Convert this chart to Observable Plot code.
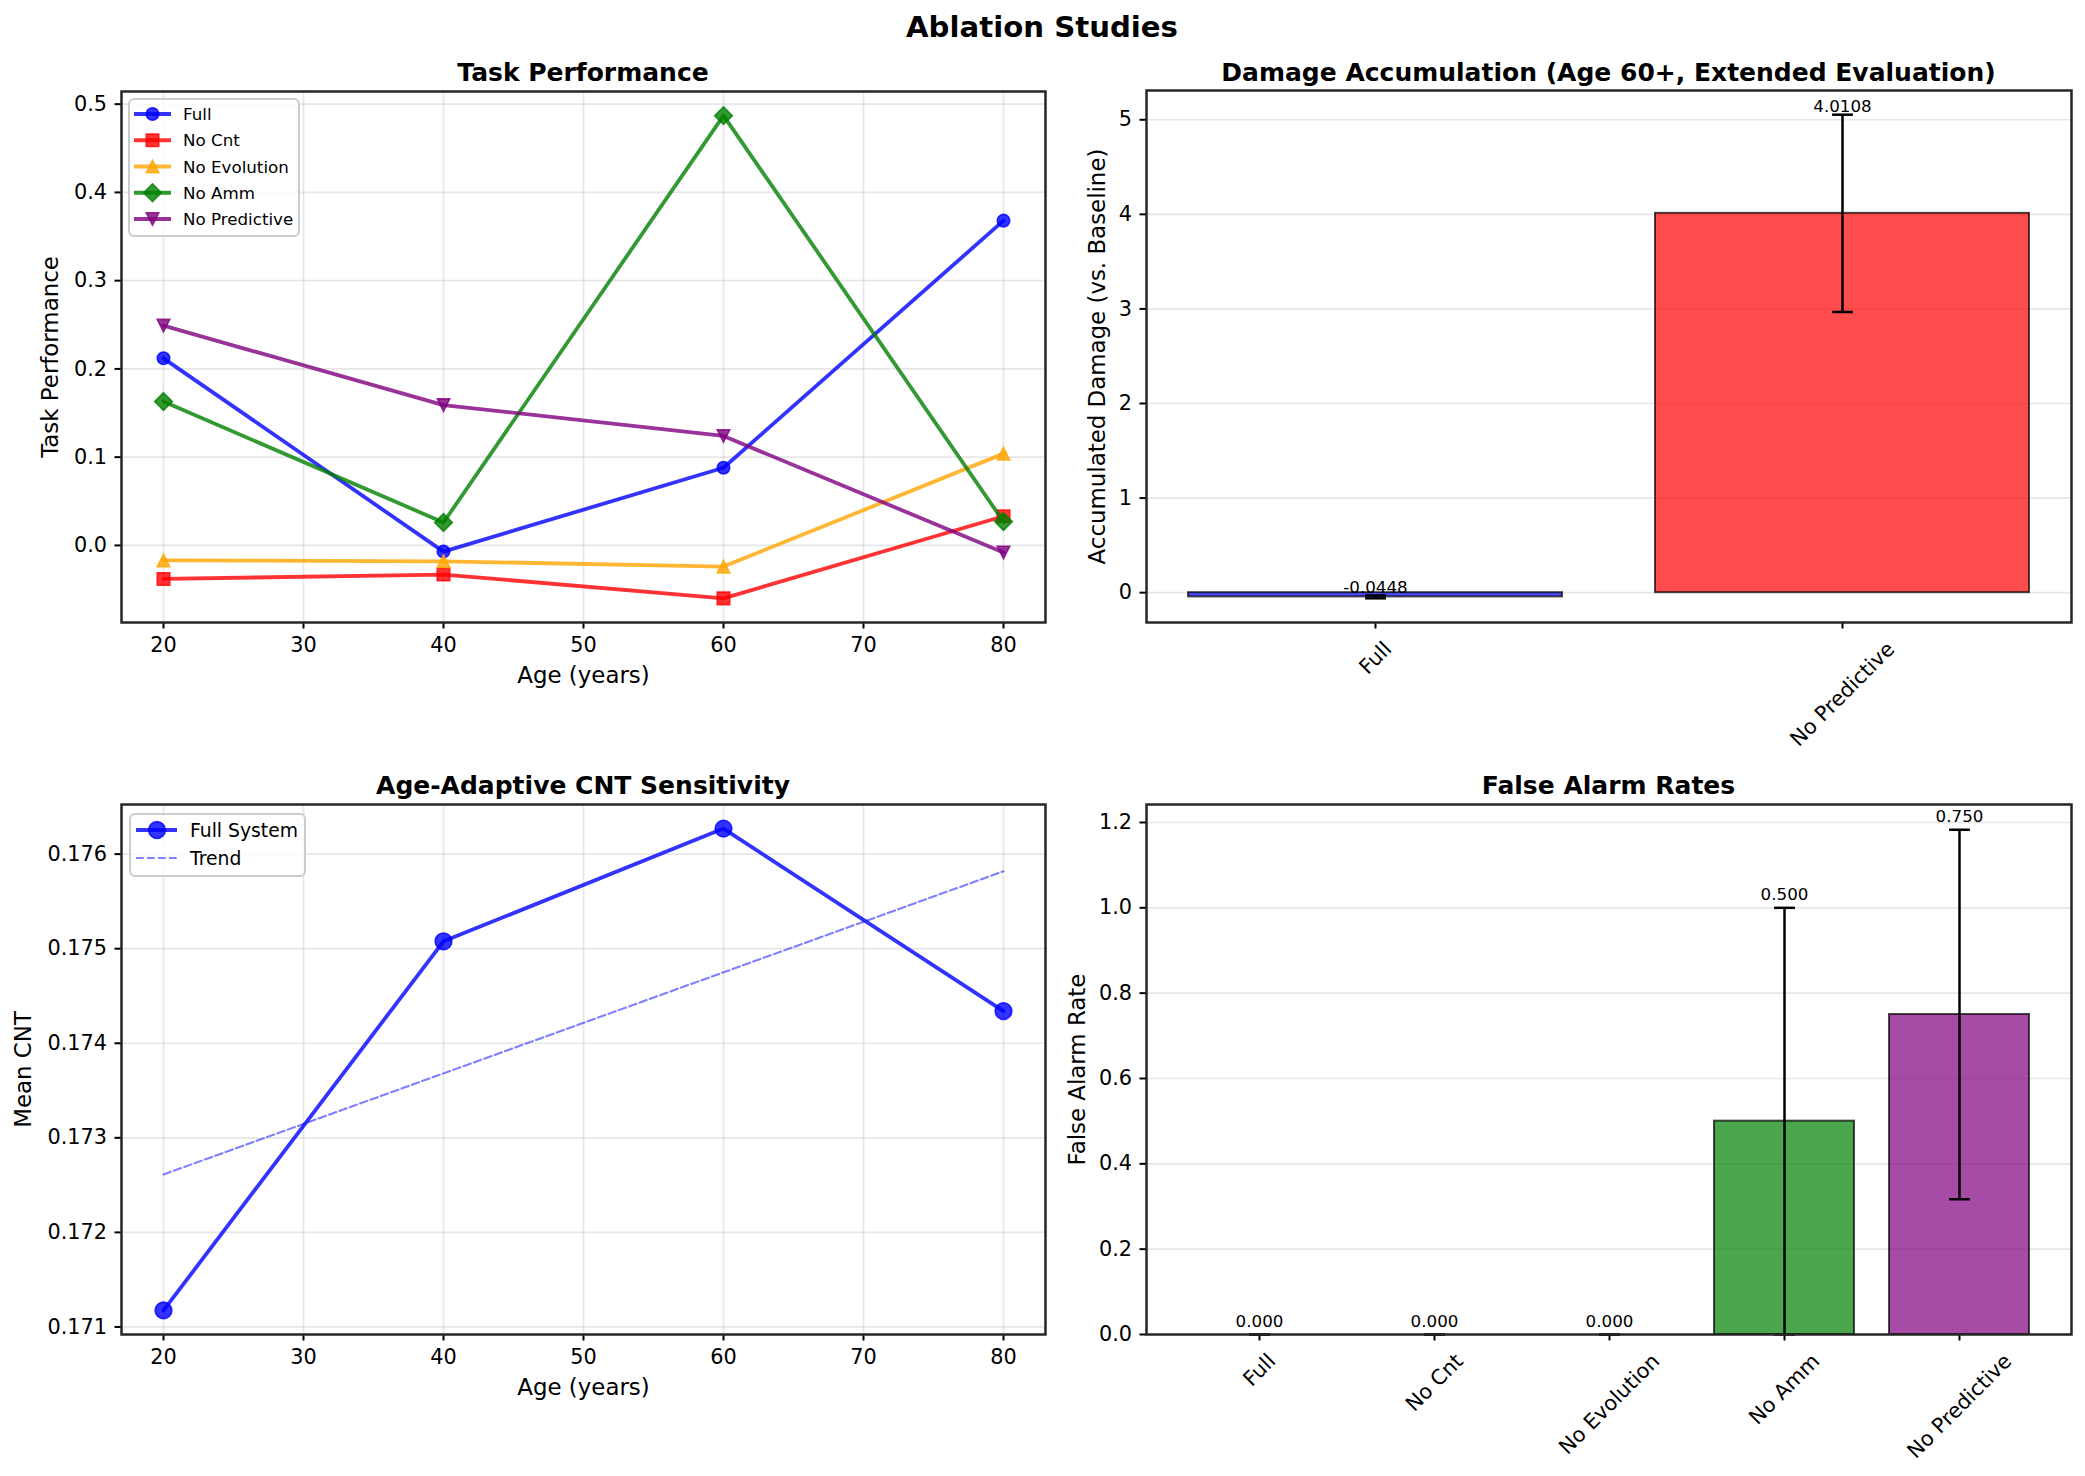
<!DOCTYPE html>
<html>
<head>
<meta charset="utf-8">
<script src="https://cdn.jsdelivr.net/npm/d3@7"></script>
<script src="https://cdn.jsdelivr.net/npm/@observablehq/plot@0.6"></script>
<style>
  body { margin: 0; background: #fff; }
  #fig { position: relative; width: 2085px; height: 1476px; font-family: "DejaVu Sans"; color: #000; overflow: hidden; background: #fff; }
  .panel { position: absolute; }
  .ttl { position: absolute; transform: translate(-50%, -50%); font-weight: bold; white-space: nowrap; font-family: "DejaVu Sans"; }
  #overlay { position: absolute; left: 0; top: 0; pointer-events: none; }
</style>
</head>
<body>
<div id="fig"></div>
<script>
// ---------------- DATA ----------------
const ages = [20, 40, 60, 80];
const seriesNames = ["Full", "No Cnt", "No Evolution", "No Amm", "No Predictive"];
const seriesColors = ["blue", "red", "orange", "green", "purple"];
const perfFull = [0.212, -0.007, 0.088, 0.368];
const perfNoCnt = [-0.038, -0.033, -0.060, 0.033];
const perfNoEvolution = [-0.017, -0.018, -0.024, 0.104];
const perfNoAmm = [0.163, 0.026, 0.487, 0.027];
const perfNoPredictive = [0.249, 0.159, 0.124, -0.008];
const ageTicks = [20, 30, 40, 50, 60, 70, 80];
const perfTicks = [0.0, 0.1, 0.2, 0.3, 0.4, 0.5];

const damageCats = ["Full", "No Predictive"];
const damageVals = [-0.0448, 4.0108];
const damageErr = [0.015, 1.043];
const damageColors = ["blue", "red"];
const damageTicks = [0, 1, 2, 3, 4, 5];

const cntAges = [20, 40, 60, 80];
const cntVals = [0.171175, 0.175078, 0.17627, 0.17434];
const cntTicks = [0.171, 0.172, 0.173, 0.174, 0.175, 0.176];

const farCats = ["Full", "No Cnt", "No Evolution", "No Amm", "No Predictive"];
const farVals = [0.0, 0.0, 0.0, 0.5, 0.75];
const farErr = [0.0, 0.0, 0.0, 0.5, 0.433];
const farColors = ["blue", "red", "orange", "green", "purple"];
const farTicks = [0.0, 0.2, 0.4, 0.6, 0.8, 1.0, 1.2];

// ---------------- HELPERS ----------------
const FONT = "DejaVu Sans";
const TICK_FS = 20.8, LABEL_FS = 22.9, SMALL_FS = 16.7;
const LABEL_LIFT = 0.015; // text offset above error bar, data units
const fig = document.getElementById("fig");
const padDomain = (lo, hi) => [lo - 0.05 * (hi - lo), hi + 0.05 * (hi - lo)];
const baseStyle = () => ({fontFamily: FONT, fontSize: TICK_FS + "px", color: "#000", background: "transparent", overflow: "visible"});
const gridOpts = {stroke: "#b0b0b0", strokeOpacity: 0.3, strokeWidth: 1.7};
const axisOpts = {tickSize: 6.5, tickPadding: 8, strokeWidth: 2, label: null};
const frameMark = () => Plot.frame({stroke: "#262626", strokeWidth: 2.5});

const mk = (fn) => ({draw(ctx, size) { const r = Math.sqrt(size / Math.PI); fn(ctx, r); }});
const SYM = {
  circle: mk((c, r) => { c.moveTo(r, 0); c.arc(0, 0, r, 0, 2 * Math.PI); c.closePath(); }),
  square: mk((c, r) => { c.moveTo(-r, -r); c.lineTo(r, -r); c.lineTo(r, r); c.lineTo(-r, r); c.closePath(); }),
  triUp: mk((c, r) => { c.moveTo(0, -r); c.lineTo(r, r); c.lineTo(-r, r); c.closePath(); }),
  triDown: mk((c, r) => { c.moveTo(0, r); c.lineTo(r, -r); c.lineTo(-r, -r); c.closePath(); }),
  diamond: mk((c, r) => { const a = r * Math.SQRT2; c.moveTo(0, -a); c.lineTo(a, 0); c.lineTo(0, a); c.lineTo(-a, 0); c.closePath(); }),
  cap: mk((c, r) => { c.moveTo(-r, 0); c.lineTo(r, 0); })
};
const perfSymbols = [SYM.circle, SYM.square, SYM.triUp, SYM.diamond, SYM.triDown];

function place(svg, left, top) {
  const d = document.createElement("div");
  d.className = "panel";
  d.style.left = left + "px";
  d.style.top = top + "px";
  d.appendChild(svg);
  fig.appendChild(d);
}
function title(text, cx, cy, fs) {
  const d = document.createElement("div");
  d.className = "ttl";
  d.style.left = cx + "px";
  d.style.top = cy + "px";
  d.style.fontSize = fs + "px";
  d.textContent = text;
  fig.appendChild(d);
}
const xLabel = (t, dy) => Plot.text([t], {text: d => d, frameAnchor: "bottom", dy, fontSize: LABEL_FS, lineAnchor: "middle"});
const yLabel = (t, dx) => Plot.text([t], {text: d => d, frameAnchor: "left", dx, rotate: -90, fontSize: LABEL_FS, lineAnchor: "middle", textAnchor: "middle"});

const measureCtx = document.createElement("canvas").getContext("2d");
measureCtx.font = `${TICK_FS}px "${FONT}"`;
function rotLabels(cats) {
  return cats.map(c => {
    const w = measureCtx.measureText(c).width;
    const h = TICK_FS * 1.164;
    return Plot.text([c], {x: d => d, text: d => d, frameAnchor: "bottom", rotate: -45,
      textAnchor: "middle", lineAnchor: "middle", fontSize: TICK_FS, dy: 14.6 + (w + h) * Math.SQRT1_2 / 2});
  });
}

// ---------------- TOP LEFT: Task Performance ----------------
const perfSeries = [perfFull, perfNoCnt, perfNoEvolution, perfNoAmm, perfNoPredictive];
const perfData = [];
seriesNames.forEach((s, i) => ages.forEach((a, j) => perfData.push({series: s, age: a, v: perfSeries[i][j]})));
const perfExt = d3.extent(perfData, d => d.v);

const tl = Plot.plot({
  width: 1065, height: 640, marginLeft: 121, marginRight: 20, marginTop: 31, marginBottom: 78,
  style: baseStyle(),
  x: {type: "linear", domain: padDomain(...d3.extent(ages))},
  y: {type: "linear", domain: padDomain(...perfExt)},
  marks: [
    Plot.gridX(ageTicks, gridOpts),
    Plot.gridY(perfTicks, gridOpts),
    ...seriesNames.flatMap((s, i) => {
      const d = perfData.filter(r => r.series === s);
      return [
        Plot.line(d, {x: "age", y: "v", stroke: seriesColors[i], strokeWidth: 3.8, strokeOpacity: 0.8}),
        Plot.dot(d, {x: "age", y: "v", symbol: perfSymbols[i], r: 6.25, fill: seriesColors[i], fillOpacity: 0.8,
          stroke: seriesColors[i], strokeOpacity: 0.8, strokeWidth: 1.6})
      ];
    }),
    Plot.axisX({...axisOpts, anchor: "bottom", ticks: ageTicks, tickFormat: d => String(d)}),
    Plot.axisY({...axisOpts, anchor: "left", ticks: perfTicks, tickFormat: d3.format(".1f")}),
    frameMark(),
    xLabel("Age (years)", 53),
    yLabel("Task Performance", -71)
  ]
});
place(tl, 0, 60);

// ---------------- TOP RIGHT: Damage Accumulation ----------------
const damageData = damageCats.map((c, i) => ({cat: c, v: damageVals[i], e: damageErr[i], color: damageColors[i]}));
const dLo = Math.min(0, d3.min(damageData, d => d.v - d.e));
const dHi = Math.max(0, d3.max(damageData, d => d.v + d.e));
const tr = Plot.plot({
  width: 1020, height: 712, marginLeft: 81, marginRight: 14, marginTop: 30, marginBottom: 150,
  style: baseStyle(),
  color: {type: "identity"},
  x: {type: "band", domain: damageCats, paddingInner: 0.2, paddingOuter: 0.05 * (damageCats.length - 0.2)},
  y: {type: "linear", domain: padDomain(dLo, dHi)},
  marks: [
    Plot.gridY(damageTicks, gridOpts),
    Plot.barY(damageData, {x: "cat", y: "v", fill: "color", fillOpacity: 0.7, stroke: "black", strokeOpacity: 0.7, strokeWidth: 2}),
    Plot.ruleX(damageData, {x: "cat", y1: d => d.v - d.e, y2: d => d.v + d.e, stroke: "black", strokeWidth: 2.5}),
    Plot.dot(damageData, {x: "cat", y: d => d.v - d.e, symbol: SYM.cap, r: 10.4, stroke: "black", strokeWidth: 2.5, fill: "none"}),
    Plot.dot(damageData, {x: "cat", y: d => d.v + d.e, symbol: SYM.cap, r: 10.4, stroke: "black", strokeWidth: 2.5, fill: "none"}),
    Plot.text(damageData, {x: "cat", y: d => d.v + d.e + LABEL_LIFT, text: d => d.v.toFixed(4), lineAnchor: "bottom", dy: -1, fontSize: SMALL_FS}),
    Plot.axisX({...axisOpts, anchor: "bottom", tickFormat: () => ""}),
    Plot.axisY({...axisOpts, anchor: "left", ticks: damageTicks, tickFormat: d => String(d)}),
    frameMark(),
    ...rotLabels(damageCats),
    yLabel("Accumulated Damage (vs. Baseline)", -49)
  ]
});
place(tr, 1065, 60);

// ---------------- BOTTOM LEFT: Age-Adaptive CNT Sensitivity ----------------
const cntData = cntAges.map((a, i) => ({age: a, v: cntVals[i]}));
const bl = Plot.plot({
  width: 1065, height: 650, marginLeft: 121, marginRight: 20, marginTop: 34, marginBottom: 86,
  style: baseStyle(),
  x: {type: "linear", domain: padDomain(...d3.extent(cntAges))},
  y: {type: "linear", domain: padDomain(...d3.extent(cntVals))},
  marks: [
    Plot.gridX(ageTicks, gridOpts),
    Plot.gridY(cntTicks, gridOpts),
    Plot.line(cntData, {x: "age", y: "v", stroke: "blue", strokeWidth: 3.8, strokeOpacity: 0.8}),
    Plot.dot(cntData, {x: "age", y: "v", symbol: SYM.circle, r: 8.33, fill: "blue", fillOpacity: 0.8, stroke: "blue", strokeOpacity: 0.8, strokeWidth: 1.6}),
    Plot.linearRegressionY(cntData, {x: "age", y: "v", stroke: "blue", strokeOpacity: 0.5, strokeWidth: 2.1, strokeDasharray: "7.7,3.3", ci: 0}),
    Plot.axisX({...axisOpts, anchor: "bottom", ticks: ageTicks, tickFormat: d => String(d)}),
    Plot.axisY({...axisOpts, anchor: "left", ticks: cntTicks, tickFormat: d3.format(".3f")}),
    frameMark(),
    xLabel("Age (years)", 53),
    yLabel("Mean CNT", -98)
  ]
});
place(bl, 0, 770);

// ---------------- BOTTOM RIGHT: False Alarm Rates ----------------
const farData = farCats.map((c, i) => ({cat: c, v: farVals[i], e: farErr[i], color: farColors[i]}));
const fHi = d3.max(farData, d => d.v + d.e);
const br = Plot.plot({
  width: 1020, height: 706, marginLeft: 81, marginRight: 14, marginTop: 34, marginBottom: 142,
  style: baseStyle(),
  color: {type: "identity"},
  x: {type: "band", domain: farCats, paddingInner: 0.2, paddingOuter: 0.05 * (farCats.length - 0.2)},
  y: {type: "linear", domain: [0, fHi * 1.05]},
  marks: [
    Plot.gridY(farTicks, gridOpts),
    Plot.barY(farData, {x: "cat", y: "v", fill: "color", fillOpacity: 0.7, stroke: "black", strokeOpacity: 0.7, strokeWidth: 2}),
    Plot.ruleX(farData, {x: "cat", y1: d => d.v - d.e, y2: d => d.v + d.e, stroke: "black", strokeWidth: 2.5}),
    Plot.dot(farData, {x: "cat", y: d => d.v - d.e, symbol: SYM.cap, r: 10.4, stroke: "black", strokeWidth: 2.5, fill: "none"}),
    Plot.dot(farData, {x: "cat", y: d => d.v + d.e, symbol: SYM.cap, r: 10.4, stroke: "black", strokeWidth: 2.5, fill: "none"}),
    Plot.text(farData, {x: "cat", y: d => d.v + d.e + LABEL_LIFT, text: d => d.v.toFixed(3), lineAnchor: "bottom", dy: -1, fontSize: SMALL_FS}),
    Plot.axisX({...axisOpts, anchor: "bottom", tickFormat: () => ""}),
    Plot.axisY({...axisOpts, anchor: "left", ticks: farTicks, tickFormat: d3.format(".1f")}),
    frameMark(),
    ...rotLabels(farCats),
    yLabel("False Alarm Rate", -69)
  ]
});
place(br, 1065, 770);

// ---------------- TITLES ----------------
title("Ablation Studies", 1042, 27, 29.2);
title("Task Performance", 583, 71.5, 25);
title("Damage Accumulation (Age 60+, Extended Evaluation)", 1608.5, 71.5, 25);
title("Age-Adaptive CNT Sensitivity", 583, 785, 25);
title("False Alarm Rates", 1608.5, 785, 25);

// ---------------- LEGENDS (overlay) ----------------
const ov = d3.select(fig).append("svg").attr("id", "overlay").attr("width", 2085).attr("height", 1476);
function symPath(sym, r) { const p = d3.path(); sym.draw(p, r * r * Math.PI); return p.toString(); }
function legendBox(x, y, w, h) {
  ov.append("rect").attr("x", x).attr("y", y).attr("width", w).attr("height", h).attr("rx", 5)
    .attr("fill", "white").attr("fill-opacity", 0.8).attr("stroke", "#cccccc").attr("stroke-width", 2);
}
// Top-left legend
legendBox(129, 99, 170, 137);
seriesNames.forEach((s, i) => {
  const y = 114 + i * 26.25;
  ov.append("line").attr("x1", 134).attr("x2", 171).attr("y1", y).attr("y2", y)
    .attr("stroke", seriesColors[i]).attr("stroke-width", 3.8).attr("stroke-opacity", 0.8);
  ov.append("path").attr("d", symPath(perfSymbols[i], 6.25)).attr("transform", `translate(152.5,${y})`)
    .attr("fill", seriesColors[i]).attr("fill-opacity", 0.8).attr("stroke", seriesColors[i]).attr("stroke-opacity", 0.8).attr("stroke-width", 1.6);
  ov.append("text").attr("x", 183).attr("y", y).attr("dominant-baseline", "central")
    .attr("font-family", FONT).attr("font-size", SMALL_FS).text(s);
});
// Bottom-left legend
legendBox(130, 814, 175, 62);
ov.append("line").attr("x1", 136).attr("x2", 177).attr("y1", 830).attr("y2", 830)
  .attr("stroke", "blue").attr("stroke-width", 3.8).attr("stroke-opacity", 0.8);
ov.append("path").attr("d", symPath(SYM.circle, 8.33)).attr("transform", "translate(157,830)")
  .attr("fill", "blue").attr("fill-opacity", 0.8).attr("stroke", "blue").attr("stroke-opacity", 0.8).attr("stroke-width", 1.6);
ov.append("text").attr("x", 190).attr("y", 830).attr("dominant-baseline", "central")
  .attr("font-family", FONT).attr("font-size", 18.75).text("Full System");
ov.append("line").attr("x1", 136).attr("x2", 177).attr("y1", 858).attr("y2", 858)
  .attr("stroke", "blue").attr("stroke-width", 2.1).attr("stroke-opacity", 0.5).attr("stroke-dasharray", "7.7,3.3");
ov.append("text").attr("x", 190).attr("y", 858).attr("dominant-baseline", "central")
  .attr("font-family", FONT).attr("font-size", 18.75).text("Trend");
</script>
</body>
</html>
